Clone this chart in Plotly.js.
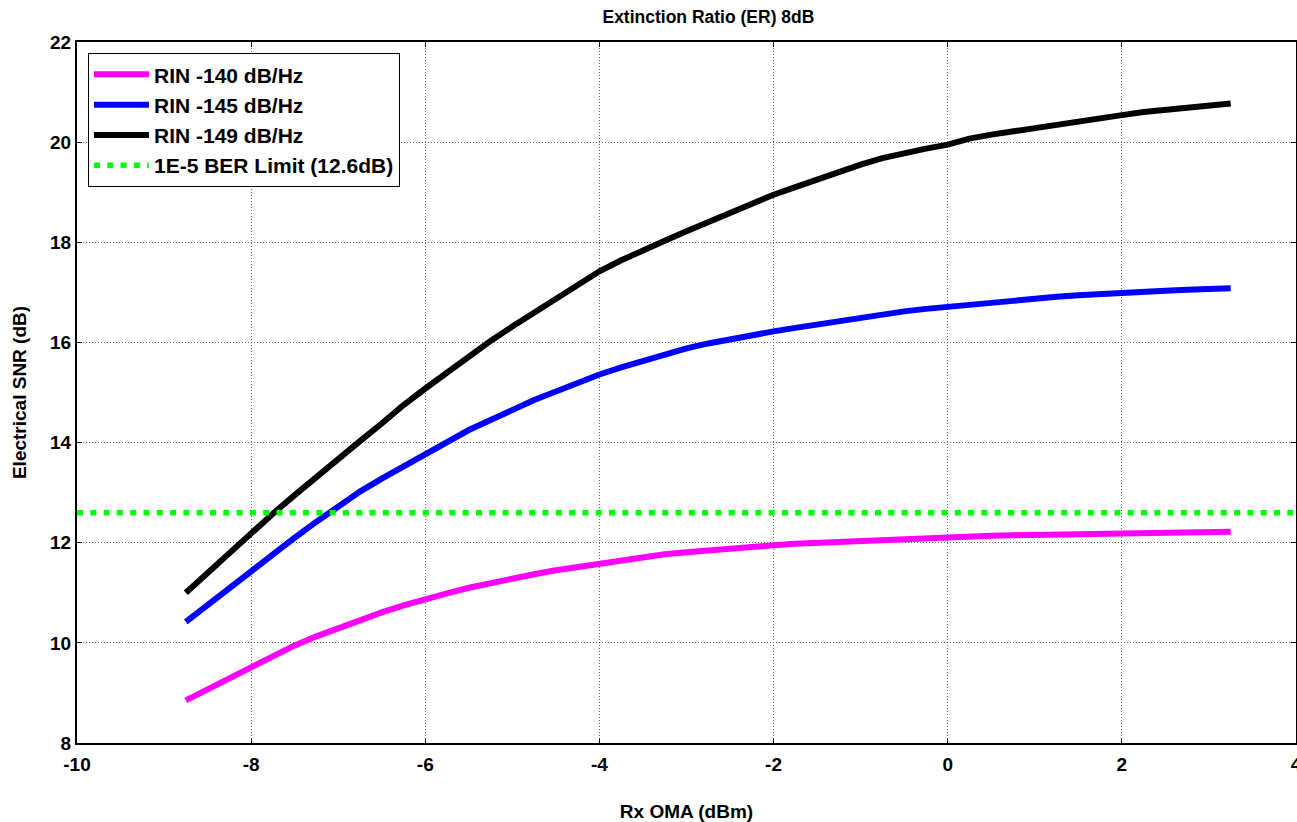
<!DOCTYPE html>
<html>
<head>
<meta charset="utf-8">
<script src="https://cdn.plot.ly/plotly-3.0.1.min.js"></script>
<style>html,body{margin:0;padding:0;background:#fff;}#chart{width:1297px;height:822px;}</style>
</head>
<body>
<div id="chart"></div>
<script>
const rxOMA = [-8.75,-8.5,-8.25,-8.0,-7.75,-7.5,-7.25,-7.0,-6.75,-6.5,-6.25,-6.0,-5.75,-5.5,-5.25,-5.0,-4.75,-4.5,-4.25,-4.0,-3.75,-3.5,-3.25,-3.0,-2.75,-2.5,-2.25,-2.0,-1.75,-1.5,-1.25,-1.0,-0.75,-0.5,-0.25,0,0.25,0.5,0.75,1.0,1.25,1.5,1.75,2.0,2.25,2.5,2.75,3.0,3.25];
const snrRIN140 = [8.85,9.07,9.28,9.49,9.72,9.95,10.13,10.30,10.46,10.61,10.75,10.88,10.99,11.10,11.20,11.29,11.37,11.45,11.52,11.59,11.65,11.71,11.77,11.81,11.85,11.89,11.92,11.95,11.98,12.00,12.02,12.04,12.06,12.08,12.10,12.12,12.13,12.14,12.15,12.16,12.17,12.18,12.19,12.20,12.21,12.21,12.22,12.22,12.22];
const snrRIN145 = [10.42,10.76,11.10,11.42,11.78,12.10,12.42,12.72,13.02,13.28,13.53,13.78,14.02,14.25,14.45,14.66,14.85,15.02,15.20,15.36,15.50,15.63,15.76,15.88,15.98,16.07,16.15,16.22,16.29,16.36,16.42,16.48,16.55,16.62,16.67,16.72,16.76,16.79,16.83,16.88,16.91,16.94,16.97,17.00,17.01,17.03,17.05,17.06,17.08];
const snrRIN149 = [11.00,11.40,11.80,12.19,12.58,12.95,13.32,13.67,14.03,14.38,14.75,15.08,15.40,15.72,16.03,16.32,16.60,16.88,17.15,17.42,17.64,17.85,18.03,18.22,18.40,18.57,18.78,18.95,19.10,19.26,19.42,19.55,19.68,19.79,19.87,19.95,20.07,20.15,20.22,20.29,20.35,20.42,20.48,20.54,20.60,20.65,20.69,20.73,20.77];
const berLimitX = [-10, 4];
const berLimitY = [12.6, 12.6];
const seriesNames = ['RIN -140 dB/Hz','RIN -145 dB/Hz','RIN -149 dB/Hz','1E-5 BER Limit (12.6dB)'];
const xTickVals = [-10,-8,-6,-4,-2,0,2,4];
const xTickText = ['-10','-8','-6','-4','-2','0','2','4'];
const yTickVals = [8,10,12,14,16,18,20,22];
const yTickText = ['8','10','12','14','16','18','20','22'];

const F = 'Liberation Sans, Arial, sans-serif';
const traces = [
  {x: rxOMA, y: snrRIN140, name: seriesNames[0], legendgroup:'a', mode:'lines', line:{color:'#ff00ff', width:6}},
  {x: rxOMA, y: snrRIN145, name: seriesNames[1], legendgroup:'b', mode:'lines', line:{color:'#0000ff', width:6}},
  {x: rxOMA, y: snrRIN149, name: seriesNames[2], legendgroup:'c', mode:'lines', line:{color:'#000000', width:6}},
  {x: berLimitX, y: berLimitY, name: seriesNames[3], legendgroup:'d', mode:'lines', line:{color:'#00ff00', width:5.5, dash:'6px,7.3px'}}
];
const axisCommon = {ticks:'inside', ticklen:5, tickcolor:'#000', tickwidth:1,
  showline:true, linecolor:'#000', linewidth:2, mirror:'ticks', zeroline:false,
  showgrid:true, gridcolor:'#666', griddash:'1px,2px', gridwidth:1,
  ticklabeloverflow:'allow',
  tickfont:{family:F, size:19, weight:'bold', color:'#000'}};
const layout = {
  width:1297, height:822,
  margin:{l:77, r:1, t:42, b:79},
  paper_bgcolor:'#fff', plot_bgcolor:'#fff',
  font:{family:F, size:19, color:'#000', weight:'bold'},
  title:{text:'Extinction Ratio (ER) 8dB', x:0.518, xref:'paper', y:0.979, yanchor:'middle', font:{family:F, size:17.5, weight:'bold', color:'#000'}},
  xaxis:Object.assign({range:[-10,4], tickvals:xTickVals, ticktext:xTickText, ticklabelstandoff:3,
    title:{text:'Rx OMA (dBm)', standoff:32, font:{family:F, size:19, weight:'bold'}}}, axisCommon),
  yaxis:Object.assign({range:[8,22], tickvals:yTickVals, ticktext:yTickText,
    title:{text:'Electrical SNR (dB)', standoff:18, font:{family:F, size:19, weight:'bold'}}}, axisCommon),
  legend:{x:0.009, y:0.984, xanchor:'left', yanchor:'top', bgcolor:'#fff', bordercolor:'#000', borderwidth:1,
    font:{family:F, size:21, weight:'bold'}, tracegroupgap:0, itemwidth:55},
  showlegend:true
};
Plotly.newPlot('chart', traces, layout, {displayModeBar:false, staticPlot:true});
</script>
</body>
</html>
